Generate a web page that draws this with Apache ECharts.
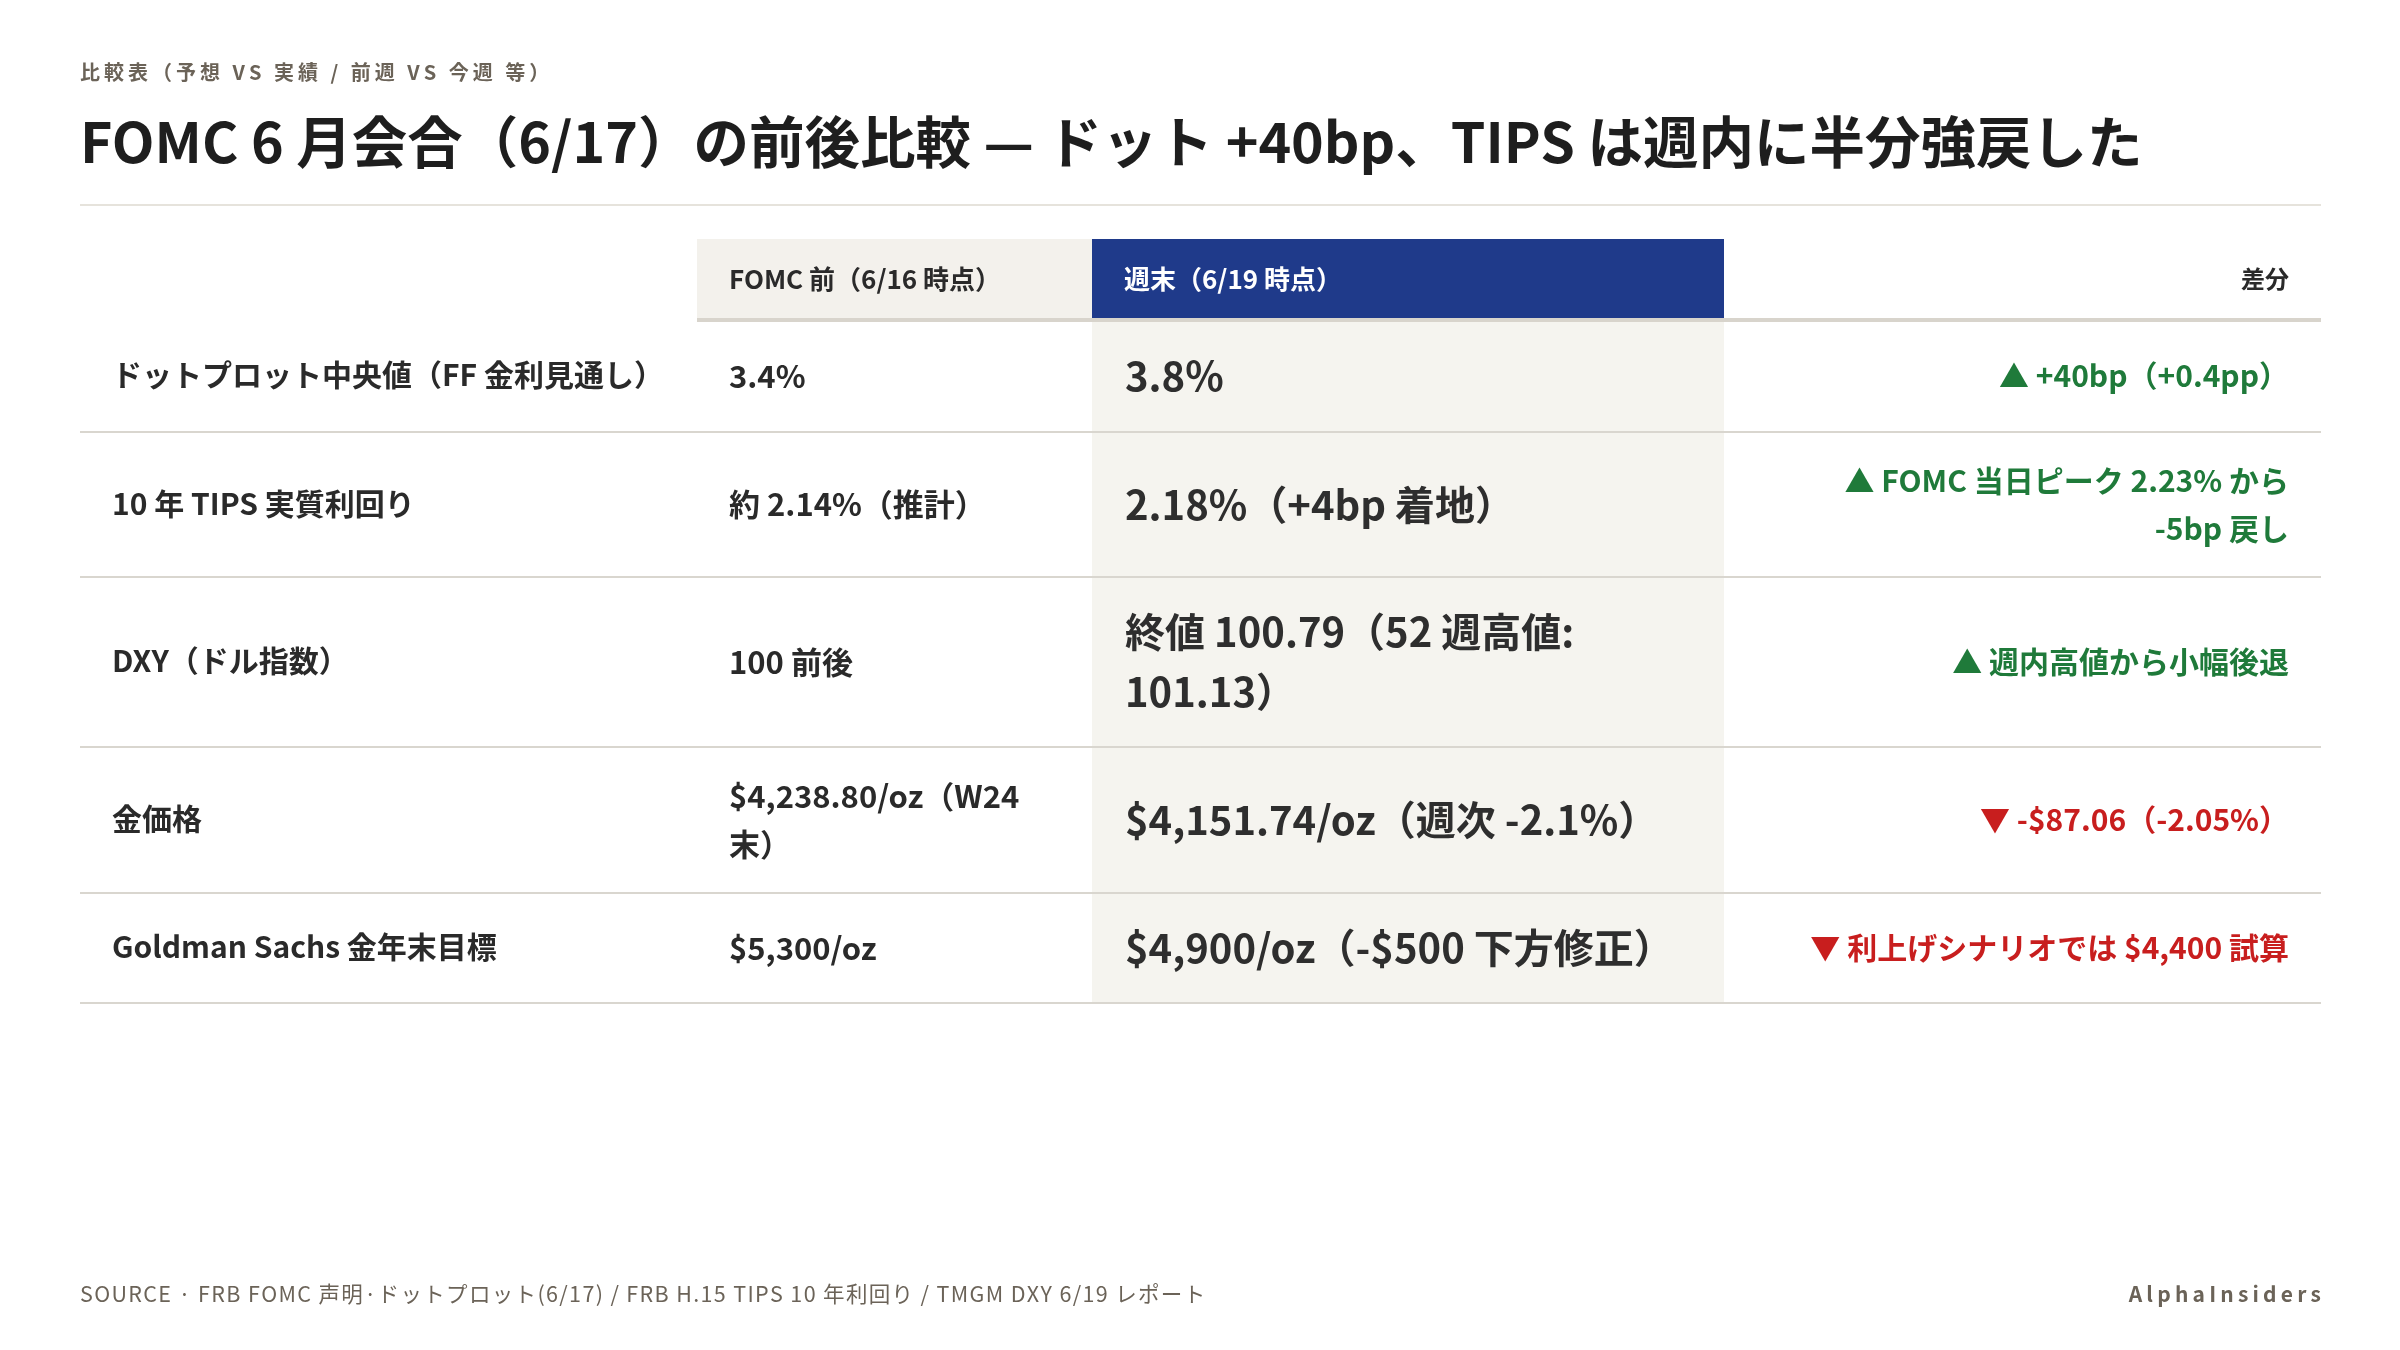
<!DOCTYPE html>
<html><head><meta charset="utf-8">
<script src="https://cdn.jsdelivr.net/npm/echarts@6/dist/echarts.min.js"></script>
<style>html,body{margin:0;padding:0;background:#fff}#c{width:2400px;height:1350px}</style>
</head><body><div id="c"></div>
<script>
var kicker = '比較表（予想 VS 実績 / 前週 VS 今週 等）';
var title = 'FOMC 6 月会合（6/17）の前後比較 — ドット +40bp、TIPS は週内に半分強戻した';
var headers = ['', 'FOMC 前（6/16 時点）', '週末（6/19 時点）', '差分'];
var rowLabels = ['ドットプロット中央値（FF 金利見通し）', '10 年 TIPS 実質利回り', 'DXY（ドル指数）', '金価格', 'Goldman Sachs 金年末目標'];
var before = ['3.4%', '約 2.14%（推計）', '100 前後', '$4,238.80/oz（W24\n末）', '$5,300/oz'];
var after = ['3.8%', '2.18%（+4bp 着地）', '終値 100.79（52 週高値:\n101.13）', '$4,151.74/oz（週次 -2.1%）', '$4,900/oz（-$500 下方修正）'];
var diff = ['+40bp（+0.4pp）', 'FOMC 当日ピーク 2.23% から\n-5bp 戻し', '週内高値から小幅後退', '-$87.06（-2.05%）', '利上げシナリオでは $4,400 試算'];
var diffUp = [true, true, true, false, false];
var source = 'SOURCE · FRB FOMC 声明·ドットプロット(6/17) / FRB H.15 TIPS 10 年利回り / TMGM DXY 6/19 レポート';
var brand = 'AlphaInsiders';

var F = '"Noto Sans CJK JP", "Noto Sans", sans-serif';
var L = 80, R = 2321;
var colX = [80, 697, 1092, 1724, 2321];
var headTop = 239, headBot = 320;
var rowLines = [320, 432, 577, 747, 893, 1003];

function spaced(s, sp) { return s.split('').join(sp); }

var g = [];
function txt(x, y, s, size, color, weight, align, lh) {
  g.push({type: 'text', z: 10, style: {x: x, y: y, text: s, fill: color,
    font: (weight || 'bold') + ' ' + size + 'px ' + F,
    textAlign: align || 'left', textVerticalAlign: 'middle', lineHeight: lh || size * 1.5}});
}
function rect(x, y, w, h, c, z) { g.push({type: 'rect', z: z || 1, shape: {x: x, y: y, width: w, height: h}, style: {fill: c}}); }

txt(L, 72, spaced(kicker, '\u2009'), 20, '#6b6358', 'bold', 'left', 24);
txt(L, 142, title, 55.5, '#1e1e1e', 'bold', 'left', 66);
rect(L, 204, R - L, 2, '#e6e3dc', 2);

// header
rect(colX[1], headTop, colX[2] - colX[1], headBot - headTop, '#f3f1ec');
rect(colX[2], headTop, colX[3] - colX[2], headBot - headTop, '#1f3a8a');
rect(colX[2], headBot, colX[3] - colX[2], rowLines[5] - headBot, '#f5f4ef');
txt(729, 279, headers[1], 26, '#2a2a2a', 'bold');
txt(1124, 279, headers[2], 26, '#ffffff', 'bold');
txt(2289, 279, headers[3], 24, '#2a2a2a', 'bold', 'right');
rect(colX[1], headBot - 2, R - colX[1], 4, '#d8d4cc', 3);

for (var i = 0; i < rowLabels.length; i++) {
  var yc = (rowLines[i] + rowLines[i + 1]) / 2;
  if (i > 0) rect(L, rowLines[i] - 1, R - L, 2, '#d9d6cf', 3);
  txt(112, yc - 1, rowLabels[i], 30, '#2a2a2a', 'bold');
  txt(729, yc, before[i], 31, '#2a2a2a', 'bold', 'left', 48);
  txt(1125, yc, after[i], 40, '#2e2e2e', 'bold', 'left', 60);
  var d = diff[i].split('\n');
  d[0] = (diffUp[i] ? '▲ ' : '▼ ') + d[0];
  g.push({type: 'text', z: 10, style: {x: 2289, y: yc, text: d.join('\n'),
    fill: diffUp[i] ? '#1f7a3a' : '#c81e1e', font: 'bold 30px ' + F,
    textAlign: 'right', textVerticalAlign: 'middle', lineHeight: 48}});
}
rect(L, rowLines[5] - 1, R - L, 2, '#d9d6cf', 3);

txt(L, 1294, spaced(source, '\u200A'), 21.5, '#6b6358', 'normal', 'left', 26);
txt(R, 1294, spaced(brand, '\u2009'), 21, '#6b6358', 'bold', 'right', 26);

var chart = echarts.init(document.getElementById('c'));
chart.setOption({backgroundColor: '#ffffff', animation: false, graphic: {elements: g}});
</script></body></html>
